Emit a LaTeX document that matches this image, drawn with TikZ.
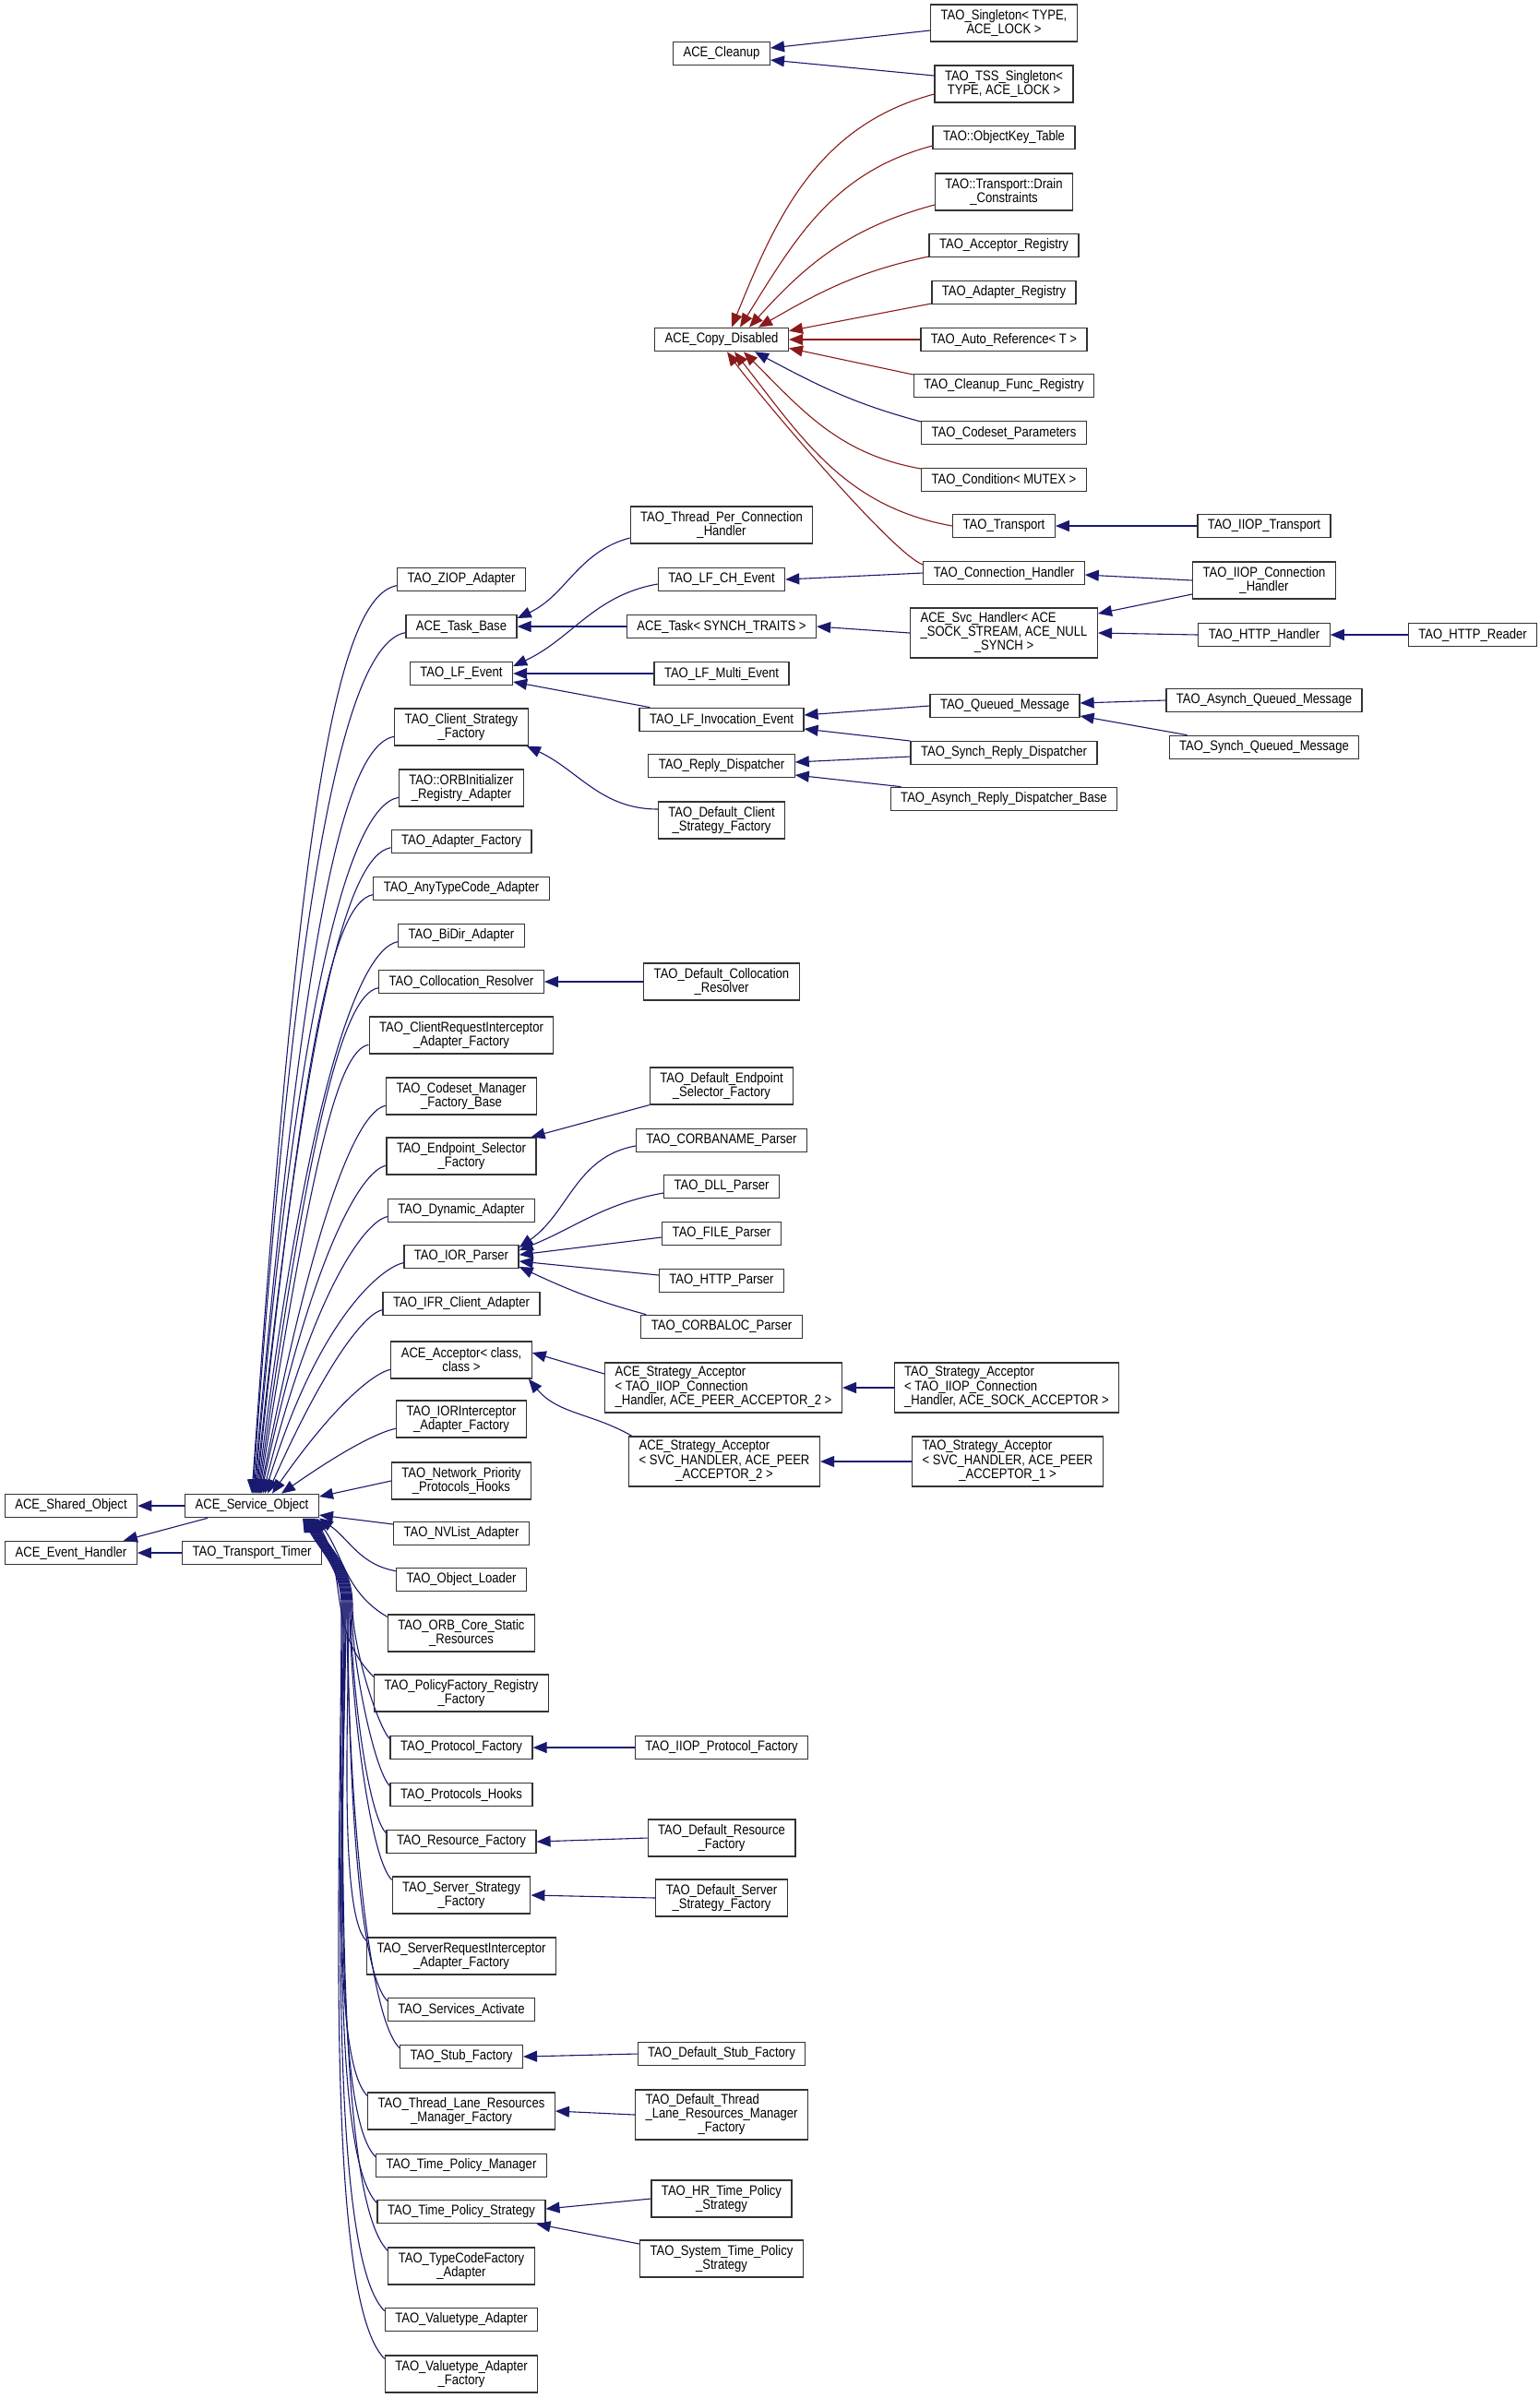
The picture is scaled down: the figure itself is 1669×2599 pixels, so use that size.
\documentclass[tikz,border=0pt]{standalone}
\usepackage{fontspec}
\newfontfamily\labelfont{Liberation Sans}[FakeStretch=0.86]
\usetikzlibrary{arrows.meta,calc}
\definecolor{edgeblue}{RGB}{25,25,112}
\definecolor{edgered}{RGB}{139,26,26}
\newcommand\boxfont{\labelfont\fontsize{7.6}{7.5}\selectfont}
\newcommand\threeln[3]{\begin{tabular}{@{}l@{}}#1\\#2\\\multicolumn{1}{@{}c@{}}{#3}\end{tabular}}
\tikzset{
  cls/.style={draw=black!80, line width=0.6pt, fill=white, inner xsep=5.5pt, inner ysep=0pt,
    minimum height=12.75pt, align=center, font=\boxfont},
  cls2/.style={cls, minimum height=20pt},
  cls3/.style={cls, minimum height=27pt},
  pub/.style={draw=edgeblue, line width=0.55pt, -{Triangle[length=7.5pt,width=6pt]}},
  priv/.style={pub, draw=edgered},
}
\begin{document}
\begin{tikzpicture}[x=0.5pt,y=0.5pt]
    \fill[white] (0,0) rectangle (1669,-2599);
    \useasboundingbox (0,0) rectangle (1669,-2599);
    % roots
    \node[cls] (sharedobj) at (77,-1632) {ACE\_Shared\_Object};
    \node[cls] (eventh) at (77,-1683) {ACE\_Event\_Handler};
    \node[cls] (svc) at (273,-1632) {ACE\_Service\_Object};
    \node[cls] (transtimer) at (273,-1683) {TAO\_Transport\_Timer};
    % left column
    \node[cls] (ziop) at (500,-628) {TAO\_ZIOP\_Adapter};
    \node[cls] (taskbase) at (500,-679) {ACE\_Task\_Base};
    \node[cls] (lfevent) at (500,-730) {TAO\_LF\_Event};
    \node[cls2] (clientsf) at (500,-788) {TAO\_Client\_Strategy\\\_Factory};
    \node[cls2] (orbinit) at (500,-854) {TAO::ORBInitializer\\\_Registry\_Adapter};
    \node[cls] (adapterf) at (500,-912) {TAO\_Adapter\_Factory};
    \node[cls] (anytc) at (500,-963) {TAO\_AnyTypeCode\_Adapter};
    \node[cls] (bidir) at (500,-1014) {TAO\_BiDir\_Adapter};
    \node[cls] (colloc) at (500,-1064) {TAO\_Collocation\_Resolver};
    \node[cls2] (clientreq) at (500,-1122) {TAO\_ClientRequestInterceptor\\\_Adapter\_Factory};
    \node[cls2] (codeset) at (500,-1188) {TAO\_Codeset\_Manager\\\_Factory\_Base};
    \node[cls2] (endpoint) at (500,-1253) {TAO\_Endpoint\_Selector\\\_Factory};
    \node[cls] (dynamic) at (500,-1312) {TAO\_Dynamic\_Adapter};
    \node[cls] (iorparser) at (500,-1362) {TAO\_IOR\_Parser};
    \node[cls] (ifr) at (500,-1413) {TAO\_IFR\_Client\_Adapter};
    \node[cls2] (acceptor) at (500,-1474) {ACE\_Acceptor< class,\\class >};
    \node[cls2] (iorint) at (500,-1538) {TAO\_IORInterceptor\\\_Adapter\_Factory};
    \node[cls2] (netprio) at (500,-1605) {TAO\_Network\_Priority\\\_Protocols\_Hooks};
    \node[cls] (nvlist) at (500,-1662) {TAO\_NVList\_Adapter};
    \node[cls] (objloader) at (500,-1712) {TAO\_Object\_Loader};
    \node[cls2] (orbcore) at (500,-1770) {TAO\_ORB\_Core\_Static\\\_Resources};
    \node[cls2] (policyf) at (500,-1835) {TAO\_PolicyFactory\_Registry\\\_Factory};
    \node[cls] (protof) at (500,-1894) {TAO\_Protocol\_Factory};
    \node[cls] (protoh) at (500,-1945) {TAO\_Protocols\_Hooks};
    \node[cls] (resf) at (500,-1996) {TAO\_Resource\_Factory};
    \node[cls2] (serverf) at (500,-2054) {TAO\_Server\_Strategy\\\_Factory};
    \node[cls2] (serverreq) at (500,-2120) {TAO\_ServerRequestInterceptor\\\_Adapter\_Factory};
    \node[cls] (services) at (500,-2178) {TAO\_Services\_Activate};
    \node[cls] (stubf) at (500,-2229) {TAO\_Stub\_Factory};
    \node[cls2] (threadlane) at (500,-2288) {TAO\_Thread\_Lane\_Resources\\\_Manager\_Factory};
    \node[cls] (timemgr) at (500,-2347) {TAO\_Time\_Policy\_Manager};
    \node[cls] (timestrat) at (500,-2397) {TAO\_Time\_Policy\_Strategy};
    \node[cls2] (typecode) at (500,-2456) {TAO\_TypeCodeFactory\\\_Adapter};
    \node[cls] (valuet) at (500,-2514) {TAO\_Valuetype\_Adapter};
    \node[cls2] (valuetf) at (500,-2573) {TAO\_Valuetype\_Adapter\\\_Factory};
    % middle column
    \node[cls] (cleanup) at (782,-58) {ACE\_Cleanup};
    \node[cls] (copydis) at (782,-368) {ACE\_Copy\_Disabled};
    \node[cls2] (tpch) at (782,-569) {TAO\_Thread\_Per\_Connection\\\_Handler};
    \node[cls] (lfch) at (782,-628) {TAO\_LF\_CH\_Event};
    \node[cls] (task) at (782,-679) {ACE\_Task< SYNCH\_TRAITS >};
    \node[cls] (lfmulti) at (782,-730) {TAO\_LF\_Multi\_Event};
    \node[cls] (lfinv) at (782,-780) {TAO\_LF\_Invocation\_Event};
    \node[cls] (replyd) at (782,-830) {TAO\_Reply\_Dispatcher};
    \node[cls2] (defclient) at (782,-889) {TAO\_Default\_Client\\\_Strategy\_Factory};
    \node[cls2] (defcolloc) at (782,-1064) {TAO\_Default\_Collocation\\\_Resolver};
    \node[cls2] (defendpt) at (782,-1177) {TAO\_Default\_Endpoint\\\_Selector\_Factory};
    \node[cls] (corbaname) at (782,-1236) {TAO\_CORBANAME\_Parser};
    \node[cls] (dll) at (782,-1286) {TAO\_DLL\_Parser};
    \node[cls] (file) at (782,-1337) {TAO\_FILE\_Parser};
    \node[cls] (http) at (782,-1388) {TAO\_HTTP\_Parser};
    \node[cls] (corbaloc) at (782,-1438) {TAO\_CORBALOC\_Parser};
    \node[cls3] (stratacc1) at (784,-1504) {\threeln{ACE\_Strategy\_Acceptor}{< TAO\_IIOP\_Connection}{\_Handler, ACE\_PEER\_ACCEPTOR\_2 >}};
    \node[cls3] (stratacc2) at (785,-1584) {\threeln{ACE\_Strategy\_Acceptor}{< SVC\_HANDLER, ACE\_PEER}{\_ACCEPTOR\_2 >}};
    \node[cls] (iiopproto) at (782,-1894) {TAO\_IIOP\_Protocol\_Factory};
    \node[cls2] (defres) at (782,-1992) {TAO\_Default\_Resource\\\_Factory};
    \node[cls2] (defserver) at (782,-2057) {TAO\_Default\_Server\\\_Strategy\_Factory};
    \node[cls] (defstub) at (782,-2226) {TAO\_Default\_Stub\_Factory};
    \node[cls3] (defthread) at (782,-2292) {\threeln{TAO\_Default\_Thread}{\_Lane\_Resources\_Manager}{\_Factory}};
    \node[cls2] (hrtime) at (782,-2383) {TAO\_HR\_Time\_Policy\\\_Strategy};
    \node[cls2] (systime) at (782,-2448) {TAO\_System\_Time\_Policy\\\_Strategy};
    % right columns
    \node[cls2] (single) at (1088,-25) {TAO\_Singleton< TYPE,\\ACE\_LOCK >};
    \node[cls2] (tss) at (1088,-91) {TAO\_TSS\_Singleton<\\TYPE, ACE\_LOCK >};
    \node[cls] (objkey) at (1088,-149) {TAO::ObjectKey\_Table};
    \node[cls2] (drain) at (1088,-208) {TAO::Transport::Drain\\\_Constraints};
    \node[cls] (accreg) at (1088,-266) {TAO\_Acceptor\_Registry};
    \node[cls] (adareg) at (1088,-317) {TAO\_Adapter\_Registry};
    \node[cls] (autoref) at (1088,-368) {TAO\_Auto\_Reference< T >};
    \node[cls] (cleanupf) at (1088,-418) {TAO\_Cleanup\_Func\_Registry};
    \node[cls] (codesetp) at (1088,-469) {TAO\_Codeset\_Parameters};
    \node[cls] (condition) at (1088,-520) {TAO\_Condition< MUTEX >};
    \node[cls] (transport) at (1088,-570) {TAO\_Transport};
    \node[cls] (connh) at (1088,-621) {TAO\_Connection\_Handler};
    \node[cls3] (svch) at (1088,-686) {\threeln{ACE\_Svc\_Handler< ACE}{\_SOCK\_STREAM, ACE\_NULL}{\_SYNCH >}};
    \node[cls] (queued) at (1089,-765) {TAO\_Queued\_Message};
    \node[cls] (synchrd) at (1088,-816) {TAO\_Synch\_Reply\_Dispatcher};
    \node[cls] (asynchrd) at (1088,-866) {TAO\_Asynch\_Reply\_Dispatcher\_Base};
    \node[cls3] (taostrat1) at (1091,-1504) {\threeln{TAO\_Strategy\_Acceptor}{< TAO\_IIOP\_Connection}{\_Handler, ACE\_SOCK\_ACCEPTOR >}};
    \node[cls3] (taostrat2) at (1092,-1584) {\threeln{TAO\_Strategy\_Acceptor}{< SVC\_HANDLER, ACE\_PEER}{\_ACCEPTOR\_1 >}};
    \node[cls] (iioptrans) at (1370,-570) {TAO\_IIOP\_Transport};
    \node[cls2] (iiopconn) at (1370,-629) {TAO\_IIOP\_Connection\\\_Handler};
    \node[cls] (httph) at (1370,-688) {TAO\_HTTP\_Handler};
    \node[cls] (asyncqm) at (1370,-759) {TAO\_Asynch\_Queued\_Message};
    \node[cls] (syncqm) at (1370,-810) {TAO\_Synch\_Queued\_Message};
    \node[cls] (httpreader) at (1596,-688) {TAO\_HTTP\_Reader};
    % edges into ACE_Service_Object
    \foreach \n/\dx/\ang in {ziop/0/86, taskbase/1/86, clientsf/2/85, orbinit/3/85, adapterf/4/84,
        anytc/5/84, bidir/6/83, colloc/7/82, clientreq/8/81, codeset/9/79, endpoint/10/78,
        dynamic/12/76, iorparser/14/73, ifr/17/66, acceptor/22/55, iorint/32/35}
      \draw[pub] ($(\n.west)!0.5!(\n.south west)$) to[out=190,in=\ang,out looseness=0.18,in looseness=1.8] ($(svc.north)+(\dx,0)$);
    \draw[pub] ($(objloader.north west)+(0,-4)$) to[out=170,in=-35] (svc.south east);
    \draw[pub] ($(orbcore.north west)+(0,-3)$) to[out=150,in=-55] ($(svc.south east)+(-3,0)$);
    \draw[pub] ($(policyf.north west)+(0,-3)$) to[out=135,in=-60] ($(svc.south east)+(-5,0)$);
    \foreach \n/\dx in {protof/6, protoh/7, resf/8, serverf/9, serverreq/10, services/11, stubf/12,
        threadlane/13, timemgr/14, timestrat/15, typecode/16, valuet/17, valuetf/18}
      \draw[pub] ($(\n.north west)+(0,-4)$) to[out=135,in=-90,out looseness=0.3,in looseness=0.8] ({388-\dx},-1740)
        to[out=90,in=-62] ($(svc.south east)+(-\dx,0)$);
    \draw[pub] (netprio.west) -- ($(svc.east)+(0,10)$);
    \draw[pub] ($(nvlist.west)+(0,10)$) -- ($(svc.east)+(0,-10)$);
    \draw[pub] (svc.west) -- (sharedobj.east);
    \draw[pub] ($(svc.south west)+(25,0)$) -- ($(eventh.north east)+(-15,0)$);
    \draw[pub] (transtimer.west) -- (eventh.east);
    % top right
    \draw[pub] ($(single.west)+(0,-8)$) -- ($(cleanup.east)+(0,6)$);
    \draw[pub] ($(tss.west)+(0,9)$) -- ($(cleanup.east)+(0,-7)$);
    \draw[priv] ($(tss.west)+(0,-11)$) to[out=195,in=68] ($(copydis.north)+(11,0)$);
    \draw[priv] ($(objkey.west)+(0,-9)$) to[out=195,in=58] ($(copydis.north)+(20,0)$);
    \draw[priv] ($(drain.west)+(0,-14)$) to[out=195,in=48] ($(copydis.north)+(30,0)$);
    \draw[priv] ($(accreg.west)+(0,-12)$) to[out=192,in=30] ($(copydis.north)+(40,0)$);
    \draw[priv] ($(adareg.west)+(0,-12)$) -- ($(copydis.north east)+(0,-4)$);
    \draw[priv] (autoref.west) -- (copydis.east);
    \draw[priv] ($(cleanupf.west)+(0,12)$) -- ($(copydis.south east)+(0,4)$);
    \draw[pub] ($(codesetp.west)+(0,12)$) to[out=165,in=-28] ($(copydis.south)+(36,0)$);
    \draw[priv] ($(condition.west)+(0,12)$) to[out=170,in=-45] ($(copydis.south)+(24,0)$);
    \draw[priv] (transport.west) to[out=170,in=-52] ($(copydis.south)+(14,0)$);
    \draw[priv] ($(connh.west)+(0,9)$) to[out=160,in=-54,out looseness=0.3,in looseness=0.4] ($(copydis.south)+(6,0)$);
    % middle
    \draw[pub] (iioptrans.west) -- (transport.east);
    \draw[pub] (iiopconn.west) -- ($(connh.east)+(0,-2)$);
    \draw[pub] ($(iiopconn.west)+(0,-15)$) -- ($(svch.east)+(0,21)$);
    \draw[pub] (httph.west) -- (svch.east);
    \draw[pub] (httpreader.west) -- (httph.east);
    \draw[pub] (connh.west) -- (lfch.east);
    \draw[pub] (svch.west) -- (task.east);
    \draw[pub] ($(tpch.west)+(0,-14)$) to[out=195,in=25] ($(taskbase.east)+(0,9)$);
    \draw[pub] (task.west) -- (taskbase.east);
    \draw[pub] ($(lfch.west)+(0,-5)$) to[out=190,in=25] ($(lfevent.east)+(0,8)$);
    \draw[pub] (lfmulti.west) -- (lfevent.east);
    \draw[pub] ($(lfinv.north west)+(12,0)$) -- ($(lfevent.east)+(0,-9)$);
    \draw[pub] (queued.west) -- ($(lfinv.east)+(0,5)$);
    \draw[pub] ($(synchrd.west)+(0,13)$) -- ($(lfinv.east)+(0,-10)$);
    \draw[pub] ($(synchrd.west)+(0,-4)$) -- ($(replyd.east)+(0,4)$);
    \draw[pub] ($(asynchrd.north west)+(12,0)$) -- ($(replyd.east)+(0,-10)$);
    \draw[pub] (asyncqm.west) -- ($(queued.east)+(0,3)$);
    \draw[pub] ($(syncqm.north west)+(20,0)$) -- ($(queued.east)+(0,-11)$);
    \draw[pub] ($(defclient.west)+(0,12)$) to[out=180,in=-25] ($(clientsf.south east)+(-2,0)$);
    \draw[pub] (defcolloc.west) -- (colloc.east);
    \draw[pub] (defendpt.south west) -- ($(endpoint.north east)+(-6,0)$);
    \draw[pub] ($(corbaname.west)+(0,-6)$) to[out=190,in=35] ($(iorparser.east)+(0,10)$);
    \draw[pub] ($(dll.west)+(0,-7)$) to[out=190,in=22] ($(iorparser.east)+(0,7)$);
    \draw[pub] ($(file.west)+(0,-4)$) -- ($(iorparser.east)+(0,2)$);
    \draw[pub] ($(http.west)+(0,6)$) -- ($(iorparser.east)+(0,-5)$);
    \draw[pub] ($(corbaloc.north west)+(6,0)$) to[out=165,in=-25] ($(iorparser.east)+(0,-11)$);
    \draw[pub] ($(stratacc1.west)+(0,15)$) -- ($(acceptor.east)+(0,8)$);
    \draw[pub] ($(stratacc2.north west)+(4,0)$) to[out=150,in=-50] ($(acceptor.south east)+(-4,0)$);
    \draw[pub] (taostrat1.west) -- (stratacc1.east);
    \draw[pub] (taostrat2.west) -- (stratacc2.east);
    \draw[pub] (iiopproto.west) -- (protof.east);
    \draw[pub] (defres.west) -- (resf.east);
    \draw[pub] (defserver.west) -- (serverf.east);
    \draw[pub] (defstub.west) -- (stubf.east);
    \draw[pub] (defthread.west) -- (threadlane.east);
    \draw[pub] (hrtime.west) -- ($(timestrat.east)+(0,3)$);
    \draw[pub] ($(systime.west)+(0,16)$) -- ($(timestrat.south east)+(-10,0)$);
\end{tikzpicture}
\end{document}
